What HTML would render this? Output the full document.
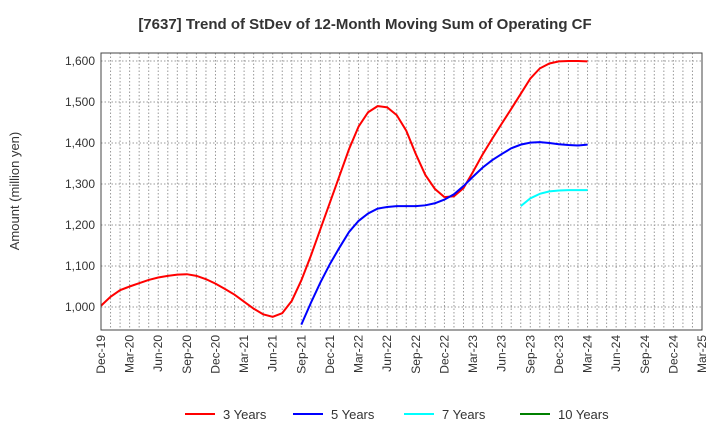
<!DOCTYPE html>
<html><head><meta charset="utf-8"><style>
body{margin:0;background:#fff;font-family:"Liberation Sans",Arial,sans-serif}
svg text{font-family:"Liberation Sans",Arial,sans-serif}
</style></head><body>
<svg id="c" width="720" height="440" xmlns="http://www.w3.org/2000/svg">
<text x="365" y="29" text-anchor="middle" font-size="15" font-weight="bold" fill="#333">[7637]  Trend of StDev of 12-Month Moving Sum of Operating CF</text>
<text transform="translate(19,191) rotate(-90)" text-anchor="middle" font-size="13" fill="#333">Amount (million yen)</text>
<g id="grid"></g><g id="series"></g><g id="axes"></g><g id="legend"></g>
</svg>
<script>
const yTicks=[1000,1100,1200,1300,1400,1500,1600];
const xLabels=["Dec-19","Mar-20","Jun-20","Sep-20","Dec-20","Mar-21","Jun-21","Sep-21","Dec-21","Mar-22","Jun-22","Sep-22","Dec-22","Mar-23","Jun-23","Sep-23","Dec-23","Mar-24","Jun-24","Sep-24","Dec-24","Mar-25"];
const seriesNames=["3 Years","5 Years","7 Years","10 Years"];
const seriesColors=["#ff0000","#0000ff","#00ffff","#008000"];
const start3=0;
const vals3=[1003,1025,1041,1050,1058,1066,1072,1076,1079,1080,1076,1068,1057,1044,1030,1013,996,982,976,985,1015,1065,1125,1190,1255,1320,1385,1440,1475,1490,1487,1468,1430,1373,1322,1288,1268,1270,1290,1330,1372,1410,1447,1483,1520,1557,1582,1594,1599,1600,1600,1599];
const start5=21;
const vals5=[957,1010,1060,1105,1145,1183,1210,1228,1240,1244,1246,1246,1246,1248,1253,1262,1275,1295,1318,1340,1358,1373,1387,1396,1401,1402,1400,1397,1395,1394,1396];
const start7=44;
const vals7=[1246,1265,1276,1282,1284,1285,1285,1285];
const start10=0;
const vals10=[];

const NS="http://www.w3.org/2000/svg";
const L=101,R=702,T=53,B=330,months=63;
const X=m=>L+(R-L)*m/months;
const Y=v=>307-(v-1000)*0.41;
function el(t,a,p){const e=document.createElementNS(NS,t);for(const k in a)e.setAttribute(k,a[k]);p.appendChild(e);return e;}
const grid=document.getElementById('grid'),axes=document.getElementById('axes'),ser=document.getElementById('series'),leg=document.getElementById('legend');
for(let m=1;m<months;m++){
 const g=el('line',{x1:X(m),x2:X(m),y1:T,y2:B,stroke:'#999','stroke-dasharray':'1.5,2','stroke-width':1},grid);
 
 
}
yTicks.forEach(v=>{
 const g=el('line',{x1:L,x2:R,y1:Y(v),y2:Y(v),stroke:'#999','stroke-dasharray':'1.5,2','stroke-width':1},grid);
 
 
 const t=el('text',{x:L-6,y:Y(v)+4,'text-anchor':'end','font-size':12,fill:'#333'},axes);
 t.textContent=v.toLocaleString('en-US');
 
 
});
const fr=el('rect',{x:L,y:T,width:R-L,height:B-T,fill:'none',stroke:'#444','stroke-width':1},axes);


xLabels.forEach((s,i)=>{
 const x=X(i*3);
 const t=el('text',{transform:`translate(${x+4},${B+5}) rotate(-90)`,'text-anchor':'end','font-size':12,fill:'#333'},axes);
 t.textContent=s;
 
 
});
[[start3,vals3],[start5,vals5],[start7,vals7],[start10,vals10]].forEach(([s,v],i)=>{
 if(!v.length)return;
 const p=el('polyline',{points:v.map((d,j)=>X(s+j)+','+Y(d)).join(' '),fill:'none',stroke:seriesColors[i],'stroke-width':2},ser);
 
 
});
const lx=[185,293,404,520];
seriesNames.forEach((n,i)=>{
 const g=el('g',{},leg);
 
 
 el('line',{x1:lx[i],x2:lx[i]+30,y1:414,y2:414,stroke:seriesColors[i],'stroke-width':2},g);
 const t=el('text',{x:lx[i]+38,y:419,'font-size':13,fill:'#333'},g);
 t.textContent=n;
});
</script>
</body></html>
